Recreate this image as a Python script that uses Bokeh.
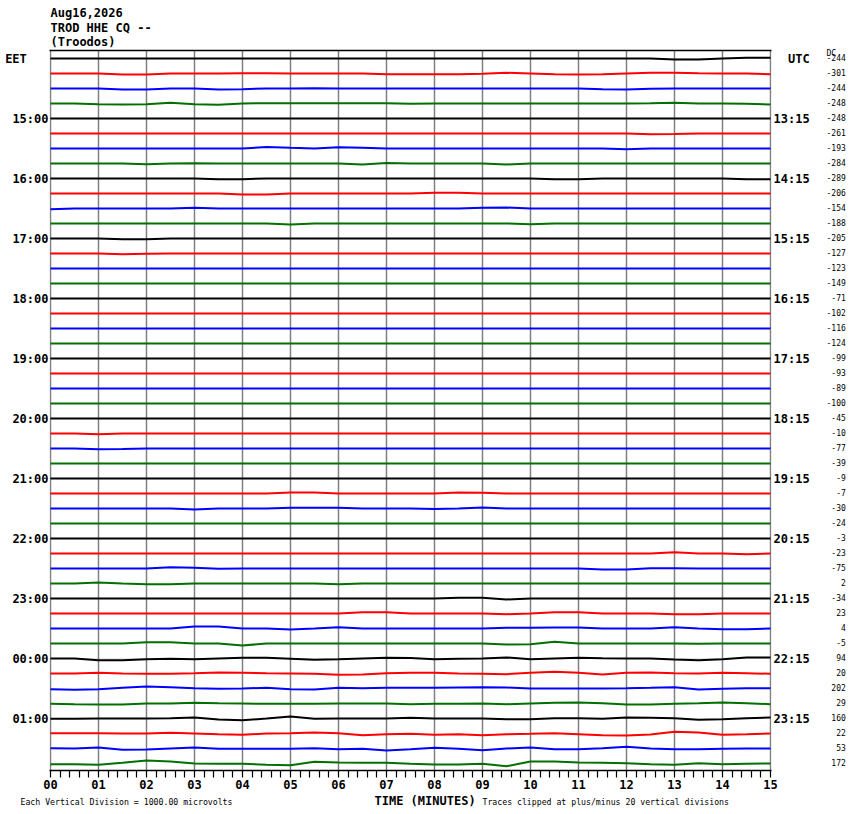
from bokeh.plotting import figure
from bokeh.models import Range1d, LinearAxis, FixedTicker, Grid
from bokeh.layouts import column
from bokeh.core.properties import value
from bokeh.embed import file_html
from bokeh.resources import INLINE

# ---------------- data ----------------
TITLE_LINES = ["Aug16,2026", "TROD HHE CQ --", "(Troodos)"]
TIMES = [0.0, 0.5, 1.0, 1.5, 2.0, 2.5, 3.0, 3.5, 4.0, 4.5, 5.0, 5.5, 6.0, 6.5, 7.0, 7.5,
         8.0, 8.5, 9.0, 9.5, 10.0, 10.5, 11.0, 11.5, 12.0, 12.5, 13.0, 13.5, 14.0, 14.5, 15.0]
TICK_LABELS = ["00", "01", "02", "03", "04", "05", "06", "07", "08", "09",
               "10", "11", "12", "13", "14", "15"]
HOURS_LEFT = ["EET", "15:00", "16:00", "17:00", "18:00", "19:00", "20:00",
              "21:00", "22:00", "23:00", "00:00", "01:00"]
HOURS_RIGHT = ["UTC", "13:15", "14:15", "15:15", "16:15", "17:15", "18:15",
               "19:15", "20:15", "21:15", "22:15", "23:15"]
DC_HEADER = "DC"
DC_VALUES = [-244, -301, -244, -248, -248, -261, -193, -284, -289, -206, -154, -188,
             -205, -127, -123, -149, -71, -102, -116, -124, -99, -93, -89, -100,
             -45, -10, -77, -39, -9, -7, -30, -24, -3, -23, -75, 2,
             -34, 23, 4, -5, 94, 20, 202, 29, 160, 22, 53, 172]
TRACE_COLORS = ["#000000", "#ff0000", "#0000ff", "#007000"]
# trace deviations (in 1/15 of a vertical division, up positive) at TIMES
TRACES = [
    [0,0,0,0,0,0,0,0,0,0, 0,0,0,0,0,0,0,0,0,0, 0,0,0,0,0,0,-1,-1,0,0.7, 0.7],
    [0,0,0,-1,-1,0,0,0,0.3,0.3, 0,0,0,0,-0.7,-0.7,-0.7,-0.7,-0.3,0.7, 0,-0.7,-1,-0.7,0,0.7,0.7,0.3,0,0, -0.7],
    [0,0,0,-1,-1,0,0,-1,-0.7,0, 0,0.3,0,0,0,0,0,0,0,0, 0,0,0,-0.7,-1,-0.3,0,0,0,0, 0],
    [0,0,-0.7,-1,-0.7,0.7,-0.7,-1.3,0,0.3, 0.3,0.3,0.3,0.3,0.3,-0.3,0,0,0,0, 0,0,0,0,0,0.3,0.7,0,0,-0.3, -1],
    [0,0,0,0,0,0,0,0,0,0, 0,0,0,0,0,0,0,0,0,0, 0,0,0,0,0,0,0,0,0,0, 0],
    [0,0,0,0,0,0,0,0,0,0, 0,0,0,0,0,0,0,0,0,0, 0,0,0,0,0,-0.7,-0.5,0,0,0, 0],
    [0,0,0,0,0,0,0,0,0,1.5, 0.7,0,1.3,0.7,0,0,0,0,0,0, 0,0,0,0,-0.7,0,0,0,0,0, 0],
    [0,0,0,0,-0.7,0,0.3,0,0,0, 0,0,0,-1,0.5,0,0,0,0,-1, 0,0,0,0,0,0,0,0,0,0, 0],
    [0,0,0,0,0,0,0,-0.7,-0.7,0, 0,0,0,0,0,0,0,0,0,0, 0,-0.7,-0.7,0,0,0,0,0,0,-0.7, -0.7],
    [0,0,0,0,0,0,0,0,-1,-1, 0,0,0,0,0,0,0.7,0.7,0,0, 0,0,0,0,0,0,0,0,0,0, 0],
    [-0.7,0,0,0,0,0,0.7,0,0,0, 0,0,0,0,0,0,0,0,0.7,1, 0,0,0,0,0,0,0,0,0,0, 0],
    [0,0,0,0,0,0,0,0,0,0, -1,0,0,0,0,0,0,0,0,0, -0.7,0,0,0,0,0,0,0,0,0, 0],
    [0,0,0,-0.7,-0.7,0,0,0,0,0, 0,0,0,0,0,0,0,0,0,0, 0,0,0,0,0,0,0,0,0,0, 0],
    [0,0,0,-0.7,-0.3,0,0,0,0,0, 0,0,0,0,0,0,0,0,0,0, 0,0,0,0,0,0,0,0,0,0, 0],
    [0,0,0,0,0,0,0,0,0,0, 0,0,0,0,0,0,0,0,0,0, 0,0,0,0,0,0,0,0,0,0, 0],
    [0,0,0,0,0,0,0,0,0,0, 0,0,0,0,0,0,0,0,0,0, 0,0,0,0,0,0,0,0,0,0, 0],
    [0,0,0,0,0,0,0,0,0,0, 0,0,0,0,0,0,0,0,0,0, 0,0,0,0,0,0,0,0,0,0, 0],
    [0,0,0,0,0,0,0,0,0,0, 0,0,0,0,0,0,0,0,0,0, 0,0,0,0,0,0,0,0,0,0, 0],
    [0,0,0,0,0,0,0,0,0,0, 0,0,0,0,0,0,0,0,0,0, 0,0,0,0,0,0,0,0,0,0, 0],
    [0,0,0,0,0,0,0,0,0,0, 0,0,0,0,0,0,0,0,0,0, 0,0,0,0,0,0,0,0,0,0, 0],
    [0,0,0,0,0,0,0,0,0,0, 0,0,0,0,0,0,0,0,0,0, 0,0,0,0,0,0,0,0,0,0, 0],
    [0,0,0,0,0,0,0,0,0,0, 0,0,0,0,0,0,0,0,0,0, 0,0,0,0,0,0,0,0,0,0, 0],
    [0,0,0,0,0,0,0,0,0,0, 0,0,0,0,0,0,0,0,0,0, 0,0,0,0,0,0,0,0,0,0, 0],
    [0,0,0,0,0,0,0,0,0,0, 0,0,0,0,0,0,0,0,0,0, 0,0,0,0,0,0,0,0,0,0, 0],
    [0,0,0,0,0,0,0,0,0,0, 0,0,0,0,0,0,0,0,0,0, 0,0,0,0,0,0,0,0,0,0, 0],
    [0,0,-0.7,0,0,0,0,0,0,0, 0,0,0,0,0,0,0,0,0,0, 0,0,0,0,0,0,0,0,0,0, 0],
    [0,0,-0.7,-0.5,0,0,0,0,0,0, 0,0,0,0,0,0,0,0,0,0, 0,0,0,0,0,0,0,0,0,0, 0],
    [0,0,0,0,0,0,0,0,0,0, 0,0,0,0,0,0,0,0,0,0, 0,0,0,0,0,0,0,0,0,0, 0],
    [0,0,0,0,0,0,0,0,0,0, 0,0,0,0,0,0,0,0,0,0, 0,0,0,0,0,0,0,0,0,0, 0],
    [0,0,0,0,0,0,0,0,0,0, 1,1,0,0,0,0,0,1,0.7,0, 0,0,0,0,0,0,0,0,0,0, 0],
    [0,0,0,0,0,0,-1,0,0,0, 0.7,0.7,0.7,0,0,0,-0.5,0,1,0, 0,0,0,0,0,0,0,0,0,0, 0],
    [0,0,0,0,0,0,0,0,0,0, 0,0,0,0,0,0,0,0,0,0, 0,0,0,0,0,0,0,0,0,0, 0],
    [0,0,0,0,0,0,0,0,0,0, 0,0,0,0,0,0,0,0,0,0, 0,0,0,0,0,0,0,0,0,0, 0],
    [0,0,0,0,0,0,0,0,0,0, 0,0,0,0,0,0,0,0,0,0, 0,0,0,0,0,0,1.3,0,0,-0.7, 0],
    [0,0,0,0,0,1.3,0.7,-0.3,0,0, 0,0,0,0,0,0,0,0,0,0, 0,0,0,-1,-1,0.3,0.3,0,0,0, 0],
    [0,0,1,0,-0.7,-0.7,0,0,0,0, 0,0,-0.7,0,0,0,0,0,0,0, 0,0,0,0,0,0,0,0,0,0, 0],
    [0,0,0,0,0,0,0,0,0,0, 0,0,0,0,0,0,0,0.7,0.7,-1, 0,0,0,0,0,0,0,0,0,0, 0],
    [0,0,0,0,0,0,0,0,0,0, 0,0,0,1.3,1.3,0,0,0,0,-0.7, 0,1.3,1.3,0,0,0,-0.7,-0.7,0,0, 0],
    [0,0,0,0,0,0,2,2,0,0, -1,0,1.3,0,0,0,0,0,0,0.7, 0.7,1,1,0,0,0,1.3,0,-0.7,-0.7, 0],
    [0,0,0,0,1.3,1.3,0,0,-2,0, 0,0,0,0,0,0,0,0,0,-1, -0.7,1.7,0,0,0,0,0,-0.3,0,0, 0],
    [0,0,-1.7,-1.7,-0.7,-0.3,-0.7,0,0.7,0.7, -0.3,-1.3,-0.7,0,0.7,0.5,-0.7,-0.3,0,1, -0.7,0,0.7,0.3,0,0,-1,-1.7,-0.7,1, 1],
    [0,0,0.7,0,-0.3,-0.3,0.3,1,0.7,0.3, 0,-0.3,-1.3,-1,0.3,0.7,0.7,0,-0.3,-0.7, 0.7,1.7,0.7,-1,0.7,1,0.3,0,0.7,0.3, -0.3],
    [-0.7,-1.3,-0.7,0.7,2,1.3,0.3,-0.3,0,0.7, -0.7,-1,0.7,0.3,0.7,0.7,0.7,1,1.3,1, 0,0,0,0,0.3,0.7,1.3,-1,-0.3,0.3, 0.3],
    [-0.3,-0.7,-1,-1,0,0,0.7,0.3,0,-0.3, -0.3,-0.3,0,0,0,-0.7,-0.3,-0.3,0,-0.7, 0,0.7,1,0.3,-1,-1,-0.3,0.3,1,0.3, -0.7],
    [-0.3,-0.3,0,0,0,0.3,1,-1,-1.7,0, 2,-0.3,0,0,0,0.7,0,0,0,-0.7, -0.7,0.3,0.3,-0.3,1,0.7,0.3,-1.3,-0.7,0.3, 1],
    [0.3,0.3,0.3,0,0,0.7,0,-0.7,-1.3,0, 0.3,1,0.3,-1.7,-0.7,-0.3,-1.3,-0.7,-1.7,-0.7, -0.3,0.3,-0.7,-1.7,-2,-1,1.7,1,-1.3,-0.7, 0],
    [0.3,0,1,-1.3,-1,0,1,-0.3,-0.3,-0.3, -0.3,0.3,-0.7,-0.3,-2,-0.7,0.7,-0.3,-1.7,0, 1,-0.7,-0.7,0.3,1.7,0,-0.7,-0.7,-0.3,0, 0],
    [-0.7,-0.7,-1.3,0.7,3,2,0,-0.3,-0.3,-1.3, -1.7,1.7,1,0.7,0.7,-0.3,-1,-1,-0.3,-2.7, 2,2,1,0.7,0.3,-0.7,-1.3,0.3,-0.7,-0.3, 0],
]
SUBDIV = 15.0  # deviation units per vertical division
NOTE_LEFT = "Each Vertical Division = 1000.00 microvolts"
NOTE_RIGHT = "Traces clipped at plus/minus 20 vertical divisions"
AXIS_TITLE = "TIME (MINUTES)"

MONO = "DejaVu Sans Mono"
NB = "\u00a0"
PAGE_W = 848


# page pixel -> data coordinate helpers (frame of main plot: x 49..771, y 50..770)
def X(px):
    return (px - 50) / 48.0


def Y(py):
    return 8.0 / 15.0 - (py - 50) / 15.0


def strip(h, py0):
    f = figure(width=PAGE_W, height=h,
               x_range=Range1d(X(0), X(PAGE_W)),
               y_range=Range1d(Y(py0 + h), Y(py0)),
               output_backend="svg", toolbar_location=None,
               x_axis_location=None, y_axis_location=None,
               min_border=0, outline_line_color=None, frame_align=False,
               background_fill_color="white", border_fill_color="white")
    f.xgrid.visible = False
    f.ygrid.visible = False
    return f


# ---------------- header strip ----------------
TOP_H = 48
head = strip(TOP_H, 0)
head.text(x=[X(50)] * 3, y=[Y(12), Y(27), Y(41)], text=TITLE_LINES,
          text_font=value(MONO), text_font_size=value("12px"),
          text_font_style="bold", text_align="left", text_baseline="middle",
          text_color="black")

# ---------------- main helicorder ----------------
p = figure(frame_width=722, frame_height=720,
           x_range=Range1d(-1 / 48.0, 15 + 1 / 48.0),
           y_range=Range1d(8.0 / 15.0 - 48, 8.0 / 15.0),
           output_backend="svg", toolbar_location=None,
           x_axis_location=None, y_axis_location=None,
           min_border_left=49, min_border_right=77,
           min_border_top=50 - TOP_H, min_border_bottom=24,
           outline_line_color=None, frame_align=False,
           background_fill_color="white", border_fill_color="white")

p.add_layout(Grid(dimension=0, ticker=FixedTicker(ticks=list(range(16))),
                  grid_line_color="#808080", grid_line_width=1.5))

minor = [m / 5.0 for m in range(76) if m % 5 != 0]
xaxis = LinearAxis(
    ticker=FixedTicker(ticks=list(range(16)), minor_ticks=minor),
    major_label_overrides={i: TICK_LABELS[i] for i in range(16)},
    axis_line_width=1.5, axis_line_color="black",
    major_tick_in=0, major_tick_out=7, minor_tick_in=0, minor_tick_out=7,
    major_tick_line_width=1.2, minor_tick_line_width=1.2,
    major_tick_line_color="black", minor_tick_line_color="black",
    major_label_text_font=MONO, major_label_text_font_style="bold",
    major_label_text_font_size="12px", major_label_standoff=2,
    major_label_text_color="black")
p.add_layout(xaxis, "below")

top = LinearAxis(ticker=FixedTicker(ticks=[]), major_tick_line_color=None,
                 minor_tick_line_color=None, major_label_text_font_size="0px",
                 major_tick_in=0, major_tick_out=0, minor_tick_in=0, minor_tick_out=0,
                 major_label_standoff=0,
                 axis_line_width=1.5, axis_line_color="black")
p.add_layout(top, "above")


def side_axis(ticks, labels, size, bold, standoff):
    return LinearAxis(
        ticker=FixedTicker(ticks=ticks),
        major_label_overrides={t: s for t, s in zip(ticks, labels)},
        axis_line_color=None, major_tick_line_color=None, minor_tick_line_color=None,
        major_tick_in=0, major_tick_out=0, minor_tick_in=0, minor_tick_out=0,
        major_label_standoff=standoff, major_label_text_font=MONO,
        major_label_text_font_size=size,
        major_label_text_font_style="bold" if bold else "normal",
        major_label_text_color="black")


hour_ticks = [-4 * k for k in range(12)]
left_labels = [HOURS_LEFT[0] + NB * 3] + HOURS_LEFT[1:]
p.add_layout(side_axis(hour_ticks, left_labels, "12px", True, 1), "left")
right_labels = [NB * 2 + HOURS_RIGHT[0]] + HOURS_RIGHT[1:]
p.add_layout(side_axis(hour_ticks, right_labels, "12px", True, 2), "right")
dc_ticks = [0.4] + [-i for i in range(len(DC_VALUES))]
dc_labels = [DC_HEADER + NB * 2] + [str(v).rjust(4).replace(" ", NB) for v in DC_VALUES]
p.add_layout(side_axis(dc_ticks, dc_labels, "8px", False, 14), "right")

xs = [TIMES for _ in TRACES]
ys = [[-i + v / SUBDIV for v in tr] for i, tr in enumerate(TRACES)]
cols = [TRACE_COLORS[i % 4] for i in range(len(TRACES))]
p.multi_line(xs=xs, ys=ys, line_color=cols, line_width=2)

# ---------------- footer strip ----------------
BOT_Y0 = 794
foot = strip(814 - BOT_Y0, BOT_Y0)
foot.text(x=[X(374)], y=[Y(800)], text=[AXIS_TITLE],
          text_font=value(MONO), text_font_size=value("12px"),
          text_font_style="bold", text_align="left", text_baseline="middle",
          text_color="black")
foot.text(x=[X(20), X(482)], y=[Y(801), Y(801)], text=[NOTE_LEFT, NOTE_RIGHT],
          text_font=value(MONO), text_font_size=value("8.2px"),
          text_align="left", text_baseline="middle", text_color="black")

layout = column(head, p, foot, spacing=0)
open("out.html", "w").write(file_html(layout, INLINE))
